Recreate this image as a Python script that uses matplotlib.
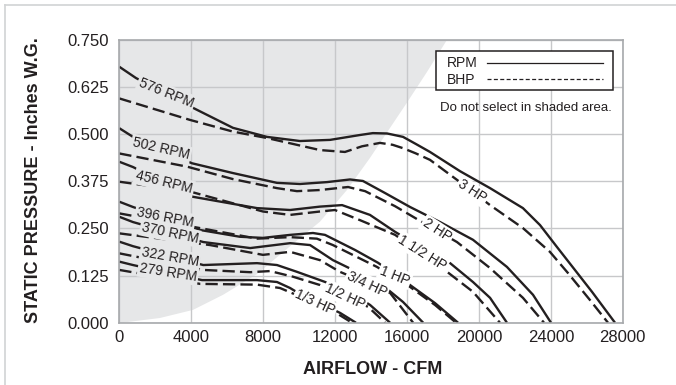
import matplotlib
matplotlib.use('Agg')
import matplotlib.pyplot as plt
from matplotlib.lines import Line2D
from matplotlib.patches import Rectangle

plt.rcParams['font.family'] = ['Liberation Sans', 'DejaVu Sans']

ink = '#231f20'
shade = '#e6e7e8'

# boundary of the "do not select" area (CFM, in. W.G.)
shade_x = [150, 2260, 4100, 5770, 7660, 9500, 11160, 12660, 13940, 15060, 16000, 17110, 18220]
shade_y = [0.0, 0.0125, 0.034, 0.074, 0.129, 0.203, 0.268, 0.352, 0.437, 0.517, 0.584, 0.665, 0.75]

# RPM curves (solid)
rpm_576_x = [0, 930, 4100, 6320, 8210, 10050, 11720, 13390, 14100, 14900, 15780, 16500, 17280, 18950, 20620, 22450, 23400, 24340, 25340, 26290, 27570]
rpm_576_y = [0.679, 0.649, 0.570, 0.517, 0.493, 0.482, 0.485, 0.498, 0.503, 0.502, 0.493, 0.474, 0.453, 0.402, 0.357, 0.304, 0.259, 0.201, 0.140, 0.082, 0.0]
rpm_502_x = [0, 760, 4040, 6320, 8770, 10050, 11550, 12830, 13550, 14780, 16170, 17840, 19670, 21560, 23010, 24010]
rpm_502_y = [0.516, 0.493, 0.423, 0.397, 0.371, 0.368, 0.373, 0.380, 0.376, 0.344, 0.307, 0.267, 0.220, 0.148, 0.074, 0.0]
rpm_456_x = [0, 760, 4100, 7660, 9500, 11160, 12390, 13940, 15340, 17010, 18400, 19670, 20620, 21560]
rpm_456_y = [0.427, 0.413, 0.334, 0.304, 0.299, 0.308, 0.312, 0.286, 0.241, 0.193, 0.158, 0.108, 0.066, 0.0]
rpm_396_x = [0, 760, 4490, 6710, 7990, 9500, 10770, 11440, 13110, 14390, 16170, 17560, 18840]
rpm_396_y = [0.321, 0.307, 0.246, 0.228, 0.225, 0.233, 0.238, 0.233, 0.193, 0.159, 0.100, 0.052, 0.0]
rpm_370_x = [0, 760, 4670, 7280, 9500, 10610, 11880, 14500, 15780, 16900]
rpm_370_y = [0.281, 0.267, 0.214, 0.198, 0.211, 0.206, 0.166, 0.105, 0.055, 0.0]
rpm_322_x = [0, 760, 4670, 7660, 8770, 9880, 11160, 12550, 13950, 15060]
rpm_322_y = [0.215, 0.203, 0.153, 0.158, 0.153, 0.135, 0.113, 0.089, 0.047, 0.0]
rpm_279_x = [0, 760, 4600, 7660, 8770, 9500, 9880, 12280, 13160]
rpm_279_y = [0.162, 0.153, 0.113, 0.113, 0.108, 0.092, 0.081, 0.026, 0.0]

# BHP curves (dashed)
hp_3_x = [0, 3930, 6320, 8210, 11160, 12550, 13500, 14500, 15200, 15780, 16500, 17280, 18780, 20620, 22450, 23950, 24950, 26180, 27180]
hp_3_y = [0.595, 0.538, 0.507, 0.490, 0.458, 0.453, 0.468, 0.477, 0.472, 0.463, 0.449, 0.432, 0.379, 0.312, 0.251, 0.188, 0.132, 0.060, 0.0]
hp_2_x = [0, 2260, 3770, 6320, 8770, 9880, 11160, 12720, 13670, 15340, 16840, 18780, 20620, 22450, 23620]
hp_2_y = [0.449, 0.428, 0.414, 0.381, 0.357, 0.349, 0.352, 0.360, 0.349, 0.309, 0.267, 0.214, 0.145, 0.066, 0.0]
hp_15_x = [0, 3930, 7990, 9500, 11160, 11990, 13390, 15340, 18230, 19670, 21170]
hp_15_y = [0.374, 0.348, 0.295, 0.286, 0.295, 0.299, 0.272, 0.233, 0.135, 0.082, 0.0]
hp_1_x = [0, 5060, 7660, 9500, 10990, 11880, 14330, 16170, 17560, 18730]
hp_1_y = [0.290, 0.246, 0.223, 0.227, 0.223, 0.206, 0.148, 0.095, 0.047, 0.0]
hp_34_x = [0, 5045, 7990, 9500, 11160, 12270, 15060, 16340]
hp_34_y = [0.237, 0.206, 0.180, 0.188, 0.166, 0.135, 0.079, 0.0]
hp_12_x = [0, 4670, 7280, 8380, 9660, 11160, 13840, 14780]
hp_12_y = [0.184, 0.140, 0.134, 0.137, 0.122, 0.100, 0.042, 0.0]
hp_13_x = [0, 4490, 7660, 8940, 9880, 12160, 12940]
hp_13_y = [0.140, 0.103, 0.101, 0.092, 0.073, 0.023, 0.0]

rpm_labels = ['576 RPM', '502 RPM', '456 RPM', '396 RPM', '370 RPM', '322 RPM', '279 RPM']
hp_labels = ['3 HP', '2 HP', '1 1/2 HP', '1 HP', '3/4 HP', '1/2 HP', '1/3 HP']

x_ticks = [0, 4000, 8000, 12000, 16000, 20000, 24000, 28000]
y_ticks = [0.0, 0.125, 0.25, 0.375, 0.5, 0.625, 0.75]

fig = plt.figure(figsize=(6.76, 3.85), dpi=100)
ax = fig.add_axes([0.1765, 0.1618, 0.7447, 0.7343])

# shaded area
ax.fill([0] + shade_x + [0], [0] + shade_y + [0.75], color=shade, lw=0, zorder=0.2)

rpm_curves = [(rpm_576_x, rpm_576_y), (rpm_502_x, rpm_502_y), (rpm_456_x, rpm_456_y),
              (rpm_396_x, rpm_396_y), (rpm_370_x, rpm_370_y), (rpm_322_x, rpm_322_y),
              (rpm_279_x, rpm_279_y)]
hp_curves = [(hp_3_x, hp_3_y), (hp_2_x, hp_2_y), (hp_15_x, hp_15_y), (hp_1_x, hp_1_y),
             (hp_34_x, hp_34_y), (hp_12_x, hp_12_y), (hp_13_x, hp_13_y)]

for xs, ys in rpm_curves:
    ax.plot(xs, ys, color=ink, lw=1.7, solid_capstyle='butt', solid_joinstyle='round', zorder=2)
for xs, ys in hp_curves:
    ax.plot(xs, ys, color=ink, lw=1.7, linestyle=(0, (5.2, 2.2)), zorder=2)

# curve labels: (x, y, rotation)
rpm_pos = [(2600, 0.609, -22), (2320, 0.461, -13), (2500, 0.372, -14), (2550, 0.280, -11),
           (2820, 0.238, -12), (2820, 0.174, -10), (2710, 0.133, -9)]
hp_pos = [(19620, 0.348, -33), (17670, 0.245, -33), (16840, 0.186, -32), (15330, 0.125, -22),
          (13780, 0.103, -25), (12560, 0.070, -25), (10890, 0.053, -25)]

for s, (x, y, r) in zip(rpm_labels, rpm_pos):
    ax.text(x, y, s, rotation=r, rotation_mode='anchor', ha='center', va='center',
            fontsize=10, color=ink, zorder=3,
            bbox=dict(boxstyle='square,pad=0.12', fc=shade, ec='none'))
for s, (x, y, r) in zip(hp_labels, hp_pos):
    ax.text(x, y, s, rotation=r, rotation_mode='anchor', ha='center', va='center',
            fontsize=10, color=ink, zorder=3,
            bbox=dict(boxstyle='square,pad=0.12', fc='white', ec='none'))

ax.set_xlim(0, 28000)
ax.set_ylim(0, 0.75)
ax.set_xticks(x_ticks)
ax.set_yticks(y_ticks)
ax.set_yticklabels([f'{v:.3f}' for v in y_ticks])
ax.set_axisbelow(True)
ax.grid(True, color='#c7c8ca', lw=1.0)
for sp in ax.spines.values():
    sp.set_color('#a7a9ac')
    sp.set_linewidth(1.2)
ax.tick_params(length=0, labelsize=12, colors=ink)
ax.tick_params(axis='x', pad=5)
ax.tick_params(axis='y', pad=7.5)

ax.set_xlabel('AIRFLOW - CFM', fontsize=13, fontweight='bold', color=ink)
ax.set_ylabel('STATIC PRESSURE - Inches W.G.', fontsize=13, fontweight='bold', color=ink)
ax.xaxis.set_label_coords(0.503, -0.1355)
ax.yaxis.set_label_coords(-0.1536, 0.505)

# legend box drawn in axes coordinates
ax.add_patch(Rectangle((0.629, 0.823), 0.351, 0.139, transform=ax.transAxes,
                       fc='white', ec=ink, lw=1.1, zorder=4))
ax.text(0.651, 0.919, 'RPM', transform=ax.transAxes, ha='left', va='center',
        fontsize=10, color=ink, zorder=5)
ax.text(0.651, 0.860, 'BHP', transform=ax.transAxes, ha='left', va='center',
        fontsize=10, color=ink, zorder=5)
ax.add_line(Line2D([0.730, 0.961], [0.918, 0.918], transform=ax.transAxes,
                   color=ink, lw=0.9, zorder=5))
ax.add_line(Line2D([0.730, 0.961], [0.861, 0.861], transform=ax.transAxes,
                   color=ink, lw=0.9, linestyle=(0, (3.2, 1.9)), zorder=5))
ax.text(0.808, 0.758, 'Do not select in shaded area.', transform=ax.transAxes,
        ha='center', va='center', fontsize=9.5, color=ink)

# light frame around the figure
fig.add_artist(Line2D([4.5 / 676, 1], [1 - 4.5 / 385] * 2, transform=fig.transFigure,
                      color='#d1d3d4', lw=1.2))
fig.add_artist(Line2D([4.5 / 676] * 2, [0, 1 - 4.5 / 385], transform=fig.transFigure,
                      color='#d1d3d4', lw=1.2))

fig.savefig('out.png', dpi=100)
